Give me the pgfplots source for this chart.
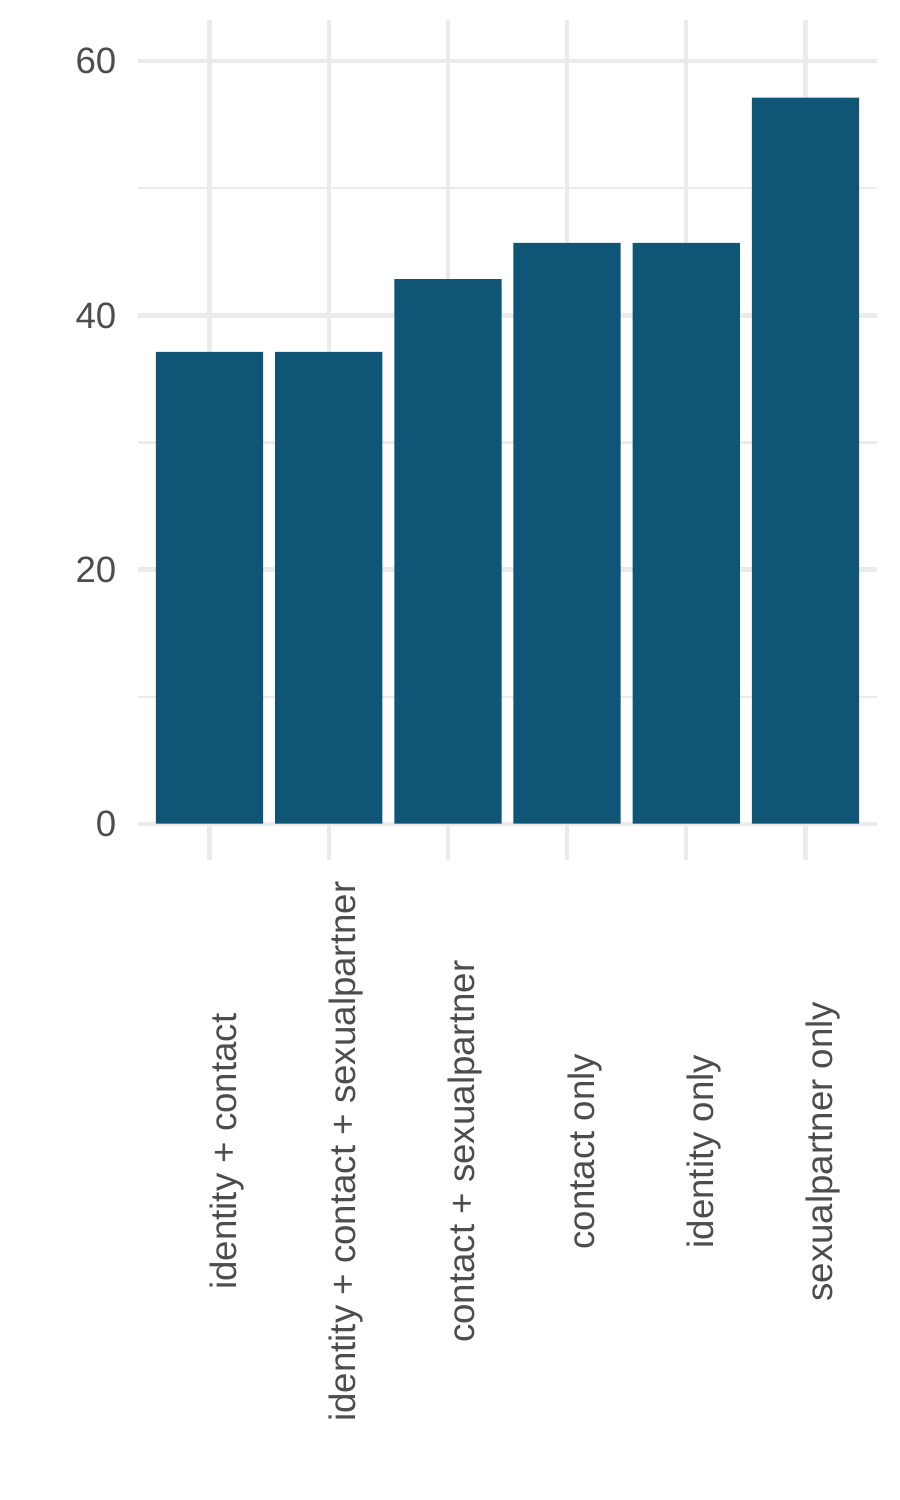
\documentclass[border=0pt]{standalone}
\usepackage{fontspec}
\setmainfont{Liberation Sans}
\usepackage{pgfplots}
\pgfplotsset{compat=1.18}
\definecolor{barcol}{RGB}{14,85,118}
\definecolor{gridcol}{RGB}{235,235,235}
\definecolor{txtcol}{RGB}{77,77,77}
\begin{document}
\begin{tikzpicture}
\useasboundingbox (0pt,0pt) rectangle (216pt,360pt);
\begin{axis}[
  at={(33.12pt,153.6pt)}, anchor=south west,
  scale only axis,
  width=177.36pt, height=201.6pt,
  xmin=-0.6, xmax=5.6,
  ymin=-2.86, ymax=63.25,
  axis line style={draw=none},
  tick style={draw=none},
  xtick={0,1,2,3,4,5},
  xticklabels={identity + contact, identity + contact + sexualpartner, contact + sexualpartner, contact only, identity only, sexualpartner only},
  ytick={0,20,40,60},
  minor ytick={10,30,50},
  xmajorgrids, ymajorgrids, yminorgrids,
  major grid style={draw=gridcol, line width=1pt},
  minor grid style={draw=gridcol, line width=0.5pt},
  font=\fontsize{8.8}{10}\selectfont,
  ticklabel style={text=txtcol},
  xticklabel style={yshift=-70pt, xshift=4.2pt, rotate=90, anchor=center, inner sep=0pt},
  yticklabel style={anchor=east, inner sep=0pt, xshift=-5pt},
  /pgf/number format/assume math mode=true,
]
\addplot[ybar, bar width=0.9, fill=barcol, draw=none] coordinates {
 (0,37.14) (1,37.14) (2,42.86) (3,45.71) (4,45.71) (5,57.14)
};
\end{axis}
\end{tikzpicture}
\end{document}
